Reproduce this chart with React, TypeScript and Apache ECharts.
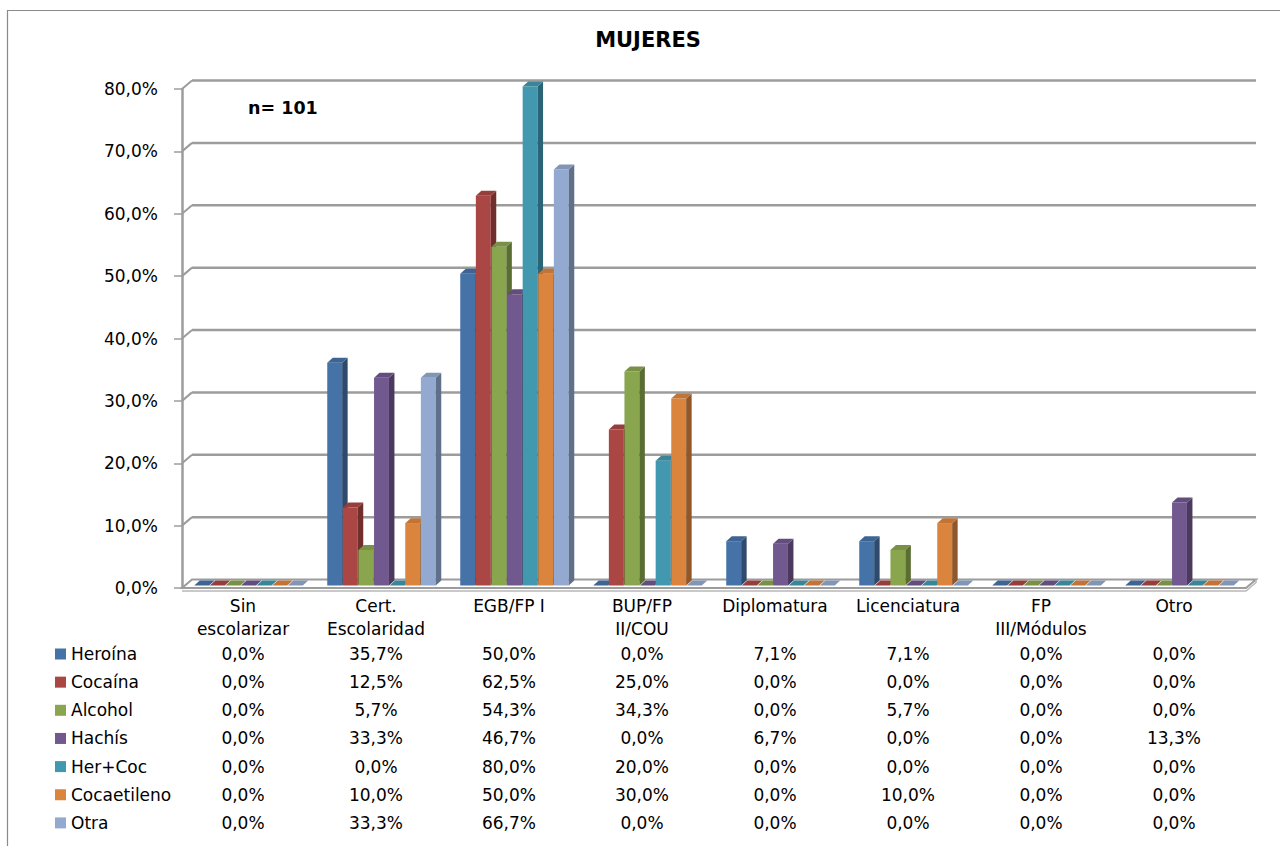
import React, { useEffect, useRef } from "react";
import * as echarts from "echarts";

// Education level categories (x axis) and substance series
const categories = [
  "Sin\nescolarizar",
  "Cert.\nEscolaridad",
  "EGB/FP I",
  "BUP/FP\nII/COU",
  "Diplomatura",
  "Licenciatura",
  "FP\nIII/Módulos",
  "Otro",
];
const seriesNames = ["Heroína", "Cocaína", "Alcohol", "Hachís", "Her+Coc", "Cocaetileno", "Otra"];

const heroina = [0.0, 35.7, 50.0, 0.0, 7.1, 7.1, 0.0, 0.0];
const cocaina = [0.0, 12.5, 62.5, 25.0, 0.0, 0.0, 0.0, 0.0];
const alcohol = [0.0, 5.7, 54.3, 34.3, 0.0, 5.7, 0.0, 0.0];
const hachis = [0.0, 33.3, 46.7, 0.0, 6.7, 0.0, 0.0, 13.3];
const herCoc = [0.0, 0.0, 80.0, 20.0, 0.0, 0.0, 0.0, 0.0];
const cocaetileno = [0.0, 10.0, 50.0, 30.0, 0.0, 10.0, 0.0, 0.0];
const otra = [0.0, 33.3, 66.7, 0.0, 0.0, 0.0, 0.0, 0.0];

const yTicks = [0, 10, 20, 30, 40, 50, 60, 70, 80];

const seriesValues = [heroina, cocaina, alcohol, hachis, herCoc, cocaetileno, otra];
const palette = ["#4572A7", "#AA4643", "#89A54E", "#71588F", "#4198AF", "#DB843D", "#93A9CF"];

const FONT = "DejaVu Sans";
const GRID_COLOR = "#9c9c9c";
// 3D projection offsets
const WALL_DX = 10;
const WALL_DY = 8.5;
const BAR_DX = 5.5;
const BAR_DY = 5;
const BAR_INSET_Y = 2.5;
const TABLE_TOP = 654;
const TABLE_ROW = 28.15;
const LABEL_SHIFT = -5.5;

function shade(hex: string, f: number): string {
  const n = parseInt(hex.slice(1), 16);
  const r = Math.round(((n >> 16) & 255) * f);
  const g = Math.round(((n >> 8) & 255) * f);
  const b = Math.round((n & 255) * f);
  return `rgb(${Math.min(r, 255)},${Math.min(g, 255)},${Math.min(b, 255)})`;
}

const pct = (v: number) => v.toFixed(1).replace(".", ",") + "%";

export default function App() {
  const ref = useRef<HTMLDivElement>(null);

  useEffect(() => {
    if (!ref.current) return;
    const chart = echarts.init(ref.current, undefined, { renderer: "svg" });

    // back wall gridlines, floor and the short wall connectors
    const frameSeries = {
      type: "custom",
      name: "frame",
      silent: true,
      z: 1,
      data: yTicks.map((t) => [0, t]),
      renderItem: (params: any, api: any) => {
        const cs = params.coordSys;
        const t = api.value(1);
        const p = api.coord([0, t]);
        const y = p[1];
        const left = cs.x;
        const right = cs.x + cs.width;
        const children: any[] = [];
        if (t === 0) {
          children.push({
            type: "polygon",
            shape: {
              points: [
                [left, y],
                [right, y],
                [right + WALL_DX, y - WALL_DY],
                [left + WALL_DX, y - WALL_DY],
              ],
            },
            style: { fill: "#ffffff", stroke: GRID_COLOR, lineWidth: 2 },
          });
          children.push({
            type: "polyline",
            shape: {
              points: [
                [right + WALL_DX, y - WALL_DY],
                [right + WALL_DX, y - WALL_DY + 3],
                [right, y + 3],
                [left, y + 3],
              ],
            },
            style: { fill: null, stroke: "#b8b8b8", lineWidth: 1.5 },
          });
        } else {
          children.push({
            type: "line",
            shape: { x1: left + WALL_DX, y1: y - WALL_DY, x2: right + WALL_DX, y2: y - WALL_DY },
            style: { stroke: GRID_COLOR, lineWidth: 2.5 },
          });
          children.push({
            type: "line",
            shape: { x1: left, y1: y, x2: left + WALL_DX, y2: y - WALL_DY },
            style: { stroke: GRID_COLOR, lineWidth: 2 },
          });
        }
        return { type: "group", children };
      },
    };

    // 3D-looking bars: front face, right side and top face
    const barSeries = seriesValues.map((vals, s) => ({
      type: "custom",
      name: seriesNames[s],
      z: 2,
      itemStyle: { color: palette[s] },
      data: vals.map((v, i) => [i, v]),
      renderItem: (params: any, api: any) => {
        const cat = api.value(0);
        const val = api.value(1);
        const p0 = api.coord([cat, 0]);
        const p1 = api.coord([cat, val]);
        const band = api.size([1, 0])[0];
        const step = band * 0.1173;
        const w = band * 0.112;
        const cx = p0[0] + (s - 3) * step;
        const x0 = cx - w / 2;
        const x1 = cx + w / 2;
        const yb = p0[1] - BAR_INSET_Y;
        const yt = p1[1] - BAR_INSET_Y;
        const col = palette[s];
        const children: any[] = [];
        if (yb - yt > 0.5) {
          children.push({
            type: "rect",
            shape: { x: x0, y: yt, width: w, height: yb - yt },
            style: { fill: col },
          });
          children.push({
            type: "polygon",
            shape: {
              points: [
                [x1, yt],
                [x1 + BAR_DX, yt - BAR_DY],
                [x1 + BAR_DX, yb - BAR_DY],
                [x1, yb],
              ],
            },
            style: { fill: shade(col, 0.66) },
          });
        }
        children.push({
          type: "polygon",
          shape: {
            points: [
              [x0, yt],
              [x0 + BAR_DX, yt - BAR_DY],
              [x1 + BAR_DX, yt - BAR_DY],
              [x1, yt],
            ],
          },
          style: { fill: shade(col, 0.88) },
        });
        return { type: "group", children };
      },
    }));

    // data table under the axis
    const tableData: number[][] = [];
    seriesValues.forEach((vals, s) => vals.forEach((v, i) => tableData.push([i, v, s])));
    const tableSeries = {
      type: "custom",
      name: "tabla",
      silent: true,
      z: 3,
      data: tableData,
      renderItem: (params: any, api: any) => {
        const cat = api.value(0);
        const v = api.value(1);
        const s = api.value(2);
        const p = api.coord([cat, 0]);
        return {
          type: "text",
          style: {
            x: p[0] + LABEL_SHIFT,
            y: TABLE_TOP + s * TABLE_ROW,
            text: pct(v),
            align: "center",
            verticalAlign: "middle",
            fontFamily: FONT,
            fontSize: 17,
            fill: "#000000",
          },
        };
      },
    };

    chart.setOption({
      animation: false,
      backgroundColor: "#ffffff",
      grid: { left: 182, right: 34, top: 89, bottom: 258, containLabel: false },
      xAxis: {
        type: "category",
        data: categories,
        axisLine: { show: false },
        axisTick: { show: false },
        splitLine: { show: false },
        axisLabel: {
          interval: 0,
          margin: 6.5,
          fontFamily: FONT,
          fontSize: 17,
          lineHeight: 23,
          color: "#000000",
          padding: [0, -2 * LABEL_SHIFT, 0, 0],
        },
      },
      yAxis: {
        type: "value",
        min: 0,
        max: 80,
        interval: 10,
        axisLine: { show: true, lineStyle: { color: GRID_COLOR, width: 2.5 } },
        axisTick: { show: true, length: 8, lineStyle: { color: GRID_COLOR, width: 1.5 } },
        splitLine: { show: false },
        axisLabel: {
          margin: 24,
          fontFamily: FONT,
          fontSize: 17,
          color: "#000000",
          formatter: (v: number) => pct(v),
        },
      },
      legend: {
        data: seriesNames,
        orient: "vertical",
        left: 55,
        top: 645.5,
        padding: 0,
        itemWidth: 11,
        itemHeight: 11,
        itemGap: 11.15,
        icon: "rect",
        selectedMode: false,
        textStyle: { fontFamily: FONT, fontSize: 17, lineHeight: 17, color: "#000000" },
      },
      graphic: [
        {
          type: "rect",
          silent: true,
          shape: { x: 7.5, y: 10.5, width: 1300, height: 900 },
          style: { fill: "none", stroke: "#8a8a8a", lineWidth: 1.2 },
          z: 0,
        },
        {
          type: "text",
          x: 648,
          y: 40,
          style: {
            text: "MUJERES",
            fontFamily: FONT,
            fontSize: 21,
            fontWeight: "bold",
            fill: "#000000",
            align: "center",
            verticalAlign: "middle",
          },
        },
        {
          type: "text",
          x: 248,
          y: 108,
          style: {
            text: "n= 101",
            fontFamily: FONT,
            fontSize: 17.5,
            fontWeight: "bold",
            fill: "#000000",
            align: "left",
            verticalAlign: "middle",
          },
        },
      ],
      series: [frameSeries, ...barSeries, tableSeries],
    });

    return () => chart.dispose();
  }, []);

  return (
    <div
      ref={ref}
      style={{ position: "fixed", left: 0, top: 0, width: 1280, height: 846 }}
    />
  );
}
